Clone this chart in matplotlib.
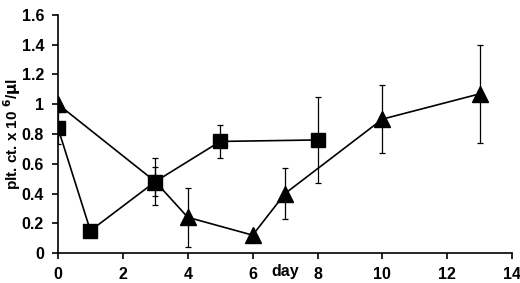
import numpy as np
import matplotlib.pyplot as plt
from matplotlib.ticker import FuncFormatter

plt.rcParams['font.family'] = ['Liberation Sans', 'DejaVu Sans']
plt.rcParams['font.weight'] = 'bold'

# triangles
tri_day = [0, 3, 4, 6, 7, 10, 13]
tri_ct = [1.0, 0.48, 0.24, 0.12, 0.40, 0.90, 1.07]
tri_err = [0.0, 0.16, 0.20, 0.0, 0.17, 0.23, 0.33]

# squares
sq_day = [0, 1, 3, 5, 8]
sq_ct = [0.84, 0.15, 0.48, 0.75, 0.76]
sq_err = [0.11, 0.0, 0.10, 0.11, 0.29]

fig = plt.figure(figsize=(5.2, 2.83), dpi=100)
ax = fig.add_axes([0.1115, 0.106, 0.8735, 0.841])

ax.errorbar(sq_day, sq_ct, yerr=sq_err, color='black', lw=1.2, marker='s',
            ms=9.5, capsize=2.5, elinewidth=0.9, capthick=0.9)
ax.errorbar(tri_day, tri_ct, yerr=tri_err, color='black', lw=1.2, marker='^',
            ms=11, capsize=2.5, elinewidth=0.9, capthick=0.9)

ax.set_xlim(0, 14)
ax.set_ylim(0, 1.6)
ax.set_xticks(np.arange(0, 15, 2))
ax.set_yticks(np.arange(0, 1.61, 0.2))
ax.yaxis.set_major_formatter(FuncFormatter(lambda v, p: f"{v:g}"))
for s in ['top', 'right']:
    ax.spines[s].set_visible(False)
for s in ['left', 'bottom']:
    ax.spines[s].set_linewidth(1.2)
ax.tick_params(direction='out', length=4, width=1.2, labelsize=11.5, pad=6)
ax.set_ylabel('plt. ct. x 10 $^{\\mathbf{6}}$/$\\mathbf{\\mu}$l', fontsize=11,
              fontweight='bold')
ax.yaxis.set_label_coords(-0.077, 0.5)
ax.text(7, -0.075, 'day', transform=ax.transData, ha='center', va='top',
        fontsize=11.5, fontweight='bold')

fig.savefig('out.png', dpi=100)
